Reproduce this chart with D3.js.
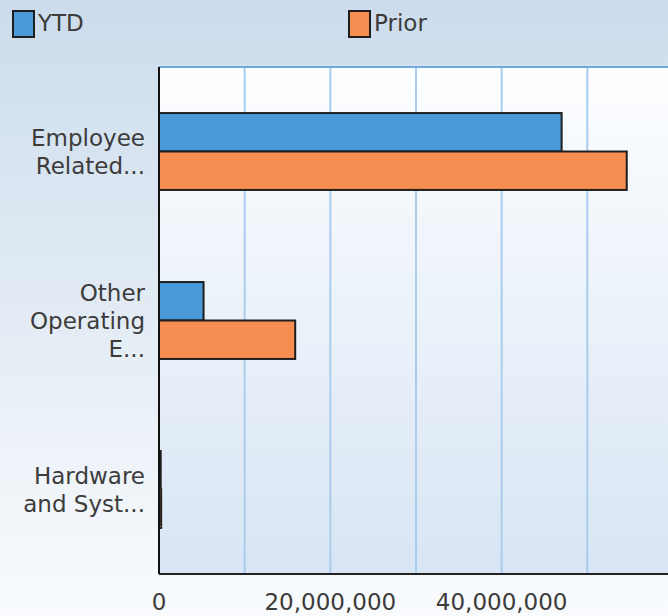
<!DOCTYPE html>
<html>
<head>
<meta charset="utf-8">
<script src="https://cdn.jsdelivr.net/npm/d3@7"></script>
<style>
  html, body { margin: 0; padding: 0; overflow: hidden; }
  text { font-family: "DejaVu Sans", sans-serif; fill: #3c3c3c; }
</style>
</head>
<body>
<svg width="668" height="616"></svg>
<script>
// chart values
var categories = ["Employee Related...", "Other Operating E...", "Hardware and Syst..."];
var categoryLines = [["Employee", "Related..."], ["Other", "Operating", "E..."], ["Hardware", "and Syst..."]];
var seriesNames = ["YTD", "Prior"];
var ytdValues = [47000000, 5200000, 200000];
var priorValues = [54600000, 15900000, 250000];
var tickValues = [0, 20000000, 40000000];
var gridValues = [0, 10000000, 20000000, 30000000, 40000000, 50000000];

var colors = {YTD: "#4a9ad9", Prior: "#f68e52"};

var svg = d3.select("svg"),
    svg_width = +svg.attr("width"),
    svg_height = +svg.attr("height"),
    margin = {top: 67, left: 159, bottom: 42},
    plot_height = svg_height - margin.top - margin.bottom;

var defs = svg.append("defs");
var bgGrad = defs.append("linearGradient").attr("id", "bg").attr("x1", 0).attr("y1", 0).attr("x2", 0).attr("y2", 1);
bgGrad.append("stop").attr("offset", "0%").attr("stop-color", "#ccdcec");
bgGrad.append("stop").attr("offset", "100%").attr("stop-color", "#f9fbfd");
var plotGrad = defs.append("linearGradient").attr("id", "plotbg").attr("x1", 0).attr("y1", 0).attr("x2", 0).attr("y2", 1);
plotGrad.append("stop").attr("offset", "0%").attr("stop-color", "#fdfeff");
plotGrad.append("stop").attr("offset", "100%").attr("stop-color", "#d8e5f4");

svg.append("rect")
    .attr("width", svg_width)
    .attr("height", svg_height)
    .attr("fill", "url(#bg)");

var x = d3.scaleLinear().domain([0, 60000000]).range([margin.left, margin.left + 514]);
var y = d3.scaleBand().domain(categories).range([margin.top, margin.top + plot_height]).paddingInner(0.545).paddingOuter(0.2725);
var ySub = d3.scaleBand().domain(seriesNames).range([0, y.bandwidth()]);

// plot area
svg.append("rect")
    .attr("x", margin.left)
    .attr("y", margin.top)
    .attr("width", svg_width - margin.left)
    .attr("height", plot_height)
    .attr("fill", "url(#plotbg)");

// gridlines
svg.append("g").selectAll("line")
    .data(gridValues.slice(1))
    .join("line")
    .attr("x1", function(d) { return x(d); })
    .attr("x2", function(d) { return x(d); })
    .attr("y1", margin.top)
    .attr("y2", margin.top + plot_height)
    .attr("stroke", "#aacdee")
    .attr("stroke-width", 2);

// top border
svg.append("line")
    .attr("x1", margin.left).attr("x2", svg_width)
    .attr("y1", margin.top).attr("y2", margin.top)
    .attr("stroke", "#74a9dc")
    .attr("stroke-width", 2);

// bars
var groups = svg.append("g").selectAll("g")
    .data(categories)
    .join("g")
    .attr("transform", function(d) { return "translate(0," + y(d) + ")"; });

groups.each(function(cat, i) {
    var g = d3.select(this);
    var vals = [ytdValues[i], priorValues[i]];
    seriesNames.forEach(function(s, j) {
        g.append("rect")
            .attr("x", x(0))
            .attr("y", ySub(s))
            .attr("width", Math.max(x(vals[j]) - x(0), 1))
            .attr("height", ySub.bandwidth())
            .attr("fill", colors[s])
            .attr("stroke", "#1e1e1e")
            .attr("stroke-width", 2);
    });
});

// axes lines
svg.append("line")
    .attr("x1", margin.left).attr("x2", margin.left)
    .attr("y1", margin.top).attr("y2", margin.top + plot_height)
    .attr("stroke", "#111").attr("stroke-width", 2);
svg.append("line")
    .attr("x1", margin.left).attr("x2", svg_width)
    .attr("y1", margin.top + plot_height).attr("y2", margin.top + plot_height)
    .attr("stroke", "#222").attr("stroke-width", 2);

// x tick labels
var fmt = d3.format(",");
svg.append("g").selectAll("text")
    .data(tickValues)
    .join("text")
    .attr("x", function(d) { return x(d); })
    .attr("y", 610)
    .attr("text-anchor", "middle")
    .style("font-size", "23px")
    .text(function(d) { return fmt(d); });

// y category labels
categories.forEach(function(cat, i) {
    var lines = categoryLines[i];
    var cy = y(cat) + y.bandwidth() / 2;
    var lh = 28;
    var t = svg.append("text")
        .attr("text-anchor", "end")
        .style("font-size", "23px");
    lines.forEach(function(l, k) {
        t.append("tspan")
            .attr("x", 145)
            .attr("y", cy + (k - (lines.length - 1) / 2) * lh + 8)
            .text(l);
    });
});

// legend
var legendX = [12, 348];
seriesNames.forEach(function(s, i) {
    svg.append("rect")
        .attr("x", legendX[i] + 1)
        .attr("y", 11)
        .attr("width", 21)
        .attr("height", 26)
        .attr("fill", colors[s])
        .attr("stroke", "#1e1e1e")
        .attr("stroke-width", 2);
    svg.append("text")
        .attr("x", legendX[i] + 26)
        .attr("y", 31)
        .style("font-size", "23px")
        .text(s);
});
</script>
</body>
</html>
